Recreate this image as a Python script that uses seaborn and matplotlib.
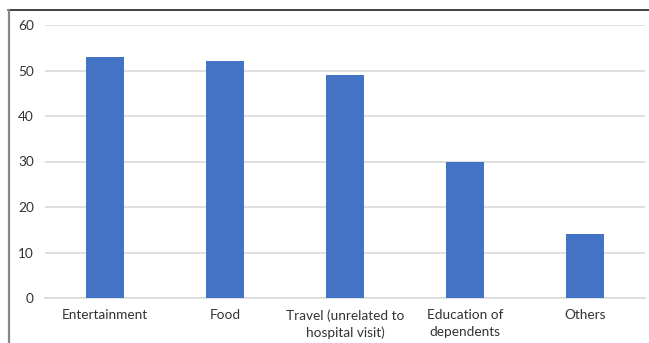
import matplotlib
matplotlib.use("Agg")
import matplotlib.pyplot as plt
import seaborn as sns
import pandas as pd
from matplotlib.lines import Line2D

categories = ["Entertainment", "Food", "Travel (unrelated to\nhospital visit)",
              "Education of\ndependents", "Others"]
values = [53, 52, 49, 30, 14]
yticks = [0, 10, 20, 30, 40, 50, 60]

sns.set_theme(style="white")
plt.rcParams['font.family'] = ['Lato', 'DejaVu Sans']

W, H = 649, 343
fig = plt.figure(figsize=(W / 100, H / 100), dpi=100)
ax = fig.add_axes([45 / W, 45 / H, 600 / W, 273 / H])

df = pd.DataFrame({"cat": categories, "val": values})
sns.barplot(data=df, x="cat", y="val", color="#4472C4", saturation=1,
            width=0.31, ax=ax, zorder=3, linewidth=0)

ax.set_ylim(0, 60)
ax.set_xlim(-0.5, 4.5)
ax.set_yticks(yticks)
ax.set_yticklabels([str(t) for t in yticks])
ax.yaxis.grid(True, color="#d9d9d9", linewidth=1.2, zorder=0)
ax.set_axisbelow(True)
for s in ax.spines.values():
    s.set_visible(False)
ax.spines['bottom'].set_visible(True)
ax.spines['bottom'].set_color("#d9d9d9")
ax.spines['bottom'].set_linewidth(1.2)
ax.set_xlabel("")
ax.set_ylabel("")
ax.tick_params(axis="both", length=0, labelsize=9.8, labelcolor="#333333")
ax.tick_params(axis="y", pad=8)
ax.tick_params(axis="x", pad=8)
for lbl in ax.get_xticklabels():
    lbl.set_linespacing(1.45)

# frame lines of the original image
fig.add_artist(Line2D([8 / W, 1], [1 - 10 / H, 1 - 10 / H], transform=fig.transFigure,
                      color="#333333", linewidth=1.3))
fig.add_artist(Line2D([8.5 / W, 8.5 / W], [0, 1 - 10 / H], transform=fig.transFigure,
                      color="#888888", linewidth=1.6))

fig.savefig("out.png", dpi=100, facecolor="white")
